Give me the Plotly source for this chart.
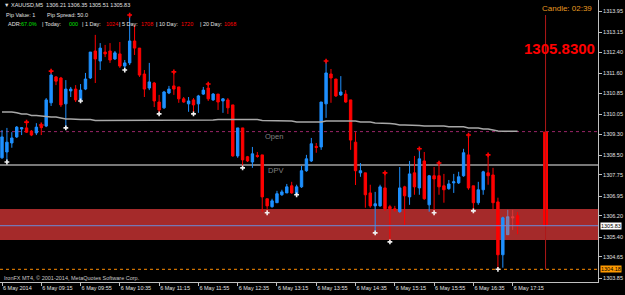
import plotly.graph_objects as go

W, H = 625, 295
ML, MR, MT, MB = 0, 27, 0, 13
PW, PH = W - ML - MR, H - MT - MB

# ---------------- data (M5 bars, XAUUSD) ----------------
opens = [
    1308.40, 1308.62, 1308.96, 1309.19, 1309.49, 1309.53, 1309.41, 1309.34, 1309.60, 1309.60,
    1310.48, 1311.46, 1311.42, 1310.44, 1310.93, 1311.00, 1310.59, 1311.00, 1311.42, 1312.44,
    1312.06, 1312.40, 1312.44, 1312.14, 1312.33, 1311.87, 1311.99, 1312.82, 1312.55, 1311.57,
    1311.04, 1311.23, 1310.51, 1310.29, 1310.85, 1311.12, 1311.08, 1310.63, 1310.44, 1310.59,
    1310.44, 1310.81, 1311.04, 1310.59, 1310.81, 1310.55, 1310.59, 1310.40, 1308.47, 1309.53,
    1308.44, 1308.24, 1308.49, 1308.51, 1306.85, 1306.55, 1306.70, 1307.00, 1307.07, 1307.34,
    1307.04, 1307.30, 1307.91, 1308.28, 1308.83, 1308.81, 1310.44, 1311.57, 1311.38, 1310.78,
    1310.81, 1310.59, 1308.99, 1307.83, 1307.83, 1307.07, 1306.58, 1306.58, 1307.26, 1306.55,
    1306.47, 1306.36, 1307.30, 1306.92, 1307.83, 1307.26, 1308.28, 1306.62, 1307.72, 1307.72,
    1307.34, 1307.23, 1307.45, 1307.45, 1307.72, 1308.51, 1307.34, 1306.70, 1307.19, 1307.83,
    1307.75, 1306.73, 1304.73, 1305.49, 1306.17, 1306.21]
highs = [
    1309.45, 1309.53, 1309.37, 1309.60, 1309.56, 1309.75, 1309.45, 1309.71, 1309.64, 1310.66,
    1311.68, 1311.49, 1311.46, 1311.34, 1311.08, 1311.15, 1311.19, 1311.61, 1312.40, 1313.05,
    1312.74, 1312.67, 1312.74, 1312.44, 1312.78, 1312.10, 1313.80, 1313.42, 1312.55, 1311.72,
    1311.99, 1311.27, 1310.78, 1310.93, 1311.12, 1311.65, 1311.08, 1310.70, 1310.70, 1310.66,
    1310.78, 1311.08, 1311.19, 1310.85, 1310.81, 1310.66, 1310.66, 1310.40, 1309.53, 1309.53,
    1308.47, 1308.81, 1308.62, 1308.51, 1306.85, 1306.85, 1307.15, 1307.19, 1307.41, 1307.49,
    1307.38, 1308.09, 1308.51, 1309.15, 1308.96, 1310.51, 1312.06, 1311.76, 1311.38, 1311.49,
    1310.96, 1310.59, 1309.37, 1308.20, 1307.83, 1307.38, 1307.11, 1307.38, 1307.83, 1306.62,
    1306.58, 1308.05, 1307.34, 1308.28, 1308.47, 1308.74, 1308.62, 1307.75, 1308.05, 1308.20,
    1307.79, 1307.56, 1307.79, 1307.87, 1308.74, 1309.26, 1307.34, 1307.49, 1307.91, 1308.51,
    1308.02, 1306.89, 1306.17, 1306.43, 1306.43, 1306.35]
lows = [
    1308.36, 1308.24, 1308.78, 1309.15, 1309.26, 1309.34, 1309.22, 1309.26, 1309.26, 1309.56,
    1310.36, 1311.15, 1310.32, 1309.53, 1310.70, 1310.51, 1310.55, 1310.96, 1311.38, 1311.23,
    1311.72, 1312.21, 1311.99, 1312.10, 1311.80, 1311.72, 1311.91, 1312.29, 1311.46, 1310.70,
    1310.96, 1310.32, 1310.06, 1310.25, 1310.81, 1310.78, 1310.48, 1310.48, 1310.14, 1310.06,
    1310.10, 1310.78, 1310.55, 1310.55, 1310.21, 1310.10, 1310.06, 1308.44, 1308.40, 1308.02,
    1308.24, 1308.02, 1308.40, 1306.36, 1306.32, 1306.51, 1306.70, 1306.96, 1307.07, 1307.04,
    1307.00, 1307.26, 1307.87, 1308.24, 1308.59, 1308.70, 1309.91, 1310.48, 1310.70, 1310.74,
    1310.48, 1308.70, 1307.37, 1307.68, 1306.51, 1306.51, 1305.56, 1306.55, 1306.39, 1305.22,
    1306.36, 1306.32, 1305.86, 1306.62, 1307.00, 1307.00, 1306.81, 1306.36, 1306.32, 1307.00,
    1306.70, 1307.19, 1307.07, 1307.41, 1307.68, 1307.19, 1306.39, 1306.62, 1307.00, 1307.38,
    1306.43, 1304.18, 1304.24, 1305.49, 1305.67, 1305.51]
closes = [
    1309.19, 1308.99, 1309.15, 1309.56, 1309.54, 1309.37, 1309.26, 1309.56, 1309.54, 1310.59,
    1311.53, 1311.30, 1310.40, 1311.00, 1311.00, 1310.59, 1310.96, 1311.38, 1312.40, 1312.14,
    1312.55, 1312.33, 1312.10, 1312.37, 1311.87, 1311.99, 1312.82, 1312.55, 1311.53, 1311.00,
    1311.27, 1310.55, 1310.21, 1310.89, 1311.00, 1311.00, 1310.63, 1310.51, 1310.55, 1310.40,
    1310.74, 1310.96, 1310.63, 1310.81, 1310.51, 1310.63, 1310.29, 1308.47, 1309.53, 1308.32,
    1308.28, 1308.55, 1308.45, 1306.92, 1306.58, 1306.77, 1307.04, 1307.11, 1307.30, 1307.07,
    1307.30, 1307.91, 1308.36, 1308.93, 1308.79, 1310.51, 1311.61, 1311.42, 1310.74, 1310.89,
    1310.51, 1309.07, 1307.91, 1307.91, 1307.00, 1306.58, 1306.66, 1307.30, 1306.47, 1306.47,
    1306.43, 1307.26, 1306.96, 1307.79, 1307.30, 1308.36, 1306.85, 1307.72, 1307.60, 1307.30,
    1307.19, 1307.41, 1307.49, 1307.68, 1308.59, 1307.26, 1306.70, 1307.19, 1307.87, 1307.72,
    1306.70, 1304.73, 1306.13, 1306.17, 1306.13, 1305.83]
ma_line = [
    1310.13, 1310.13, 1310.13, 1310.10, 1310.06, 1310.06, 1310.00, 1310.00, 1309.98, 1309.94,
    1309.94, 1309.94, 1309.91, 1309.87, 1309.87, 1309.85, 1309.85, 1309.85, 1309.85, 1309.81,
    1309.81, 1309.81, 1309.81, 1309.81, 1309.81, 1309.81, 1309.81, 1309.81, 1309.81, 1309.81,
    1309.81, 1309.81, 1309.81, 1309.81, 1309.81, 1309.81, 1309.81, 1309.81, 1309.81, 1309.81,
    1309.81, 1309.83, 1309.83, 1309.83, 1309.85, 1309.85, 1309.87, 1309.87, 1309.87, 1309.85,
    1309.85, 1309.85, 1309.85, 1309.81, 1309.81, 1309.81, 1309.81, 1309.81, 1309.79, 1309.79,
    1309.75, 1309.75, 1309.75, 1309.75, 1309.75, 1309.75, 1309.79, 1309.79, 1309.79, 1309.79,
    1309.79, 1309.79, 1309.79, 1309.75, 1309.75, 1309.75, 1309.72, 1309.72, 1309.70, 1309.70,
    1309.68, 1309.64, 1309.64, 1309.64, 1309.62, 1309.62, 1309.60, 1309.60, 1309.60, 1309.60,
    1309.60, 1309.57, 1309.57, 1309.57, 1309.57, 1309.53, 1309.53, 1309.53, 1309.49, 1309.49,
    1309.45, 1309.41, 1309.40, 1309.40, 1309.40, 1309.40]
faded_bars = [103, 104]
fractal_low_idx = [1, 13, 16, 25, 32, 39, 49, 54, 60, 76, 79, 88, 96, 101]
fractal_high_idx = [5, 8, 10, 26, 35, 42, 66, 78, 85, 89, 95, 99]

# higher-timeframe candle drawn at the right
htf_pos = [110.7]
htf_open, htf_high, htf_low, htf_close = [1309.39], [1313.80], [1304.18], [1305.83]

# levels
day_open = 1309.39
dpv = 1308.13
zone_low, zone_high = 1305.29, 1306.46
bid = 1305.83
day_low = 1304.18

x_tick_idx = [0, 8, 16, 24, 32, 40, 48, 56, 64, 72, 80, 88, 96, 104]
x_tick_text = ["6 May 2014", "6 May 09:15", "6 May 09:55", "6 May 10:35", "6 May 11:15",
               "6 May 11:55", "6 May 12:35", "6 May 13:15", "6 May 13:55", "6 May 14:35",
               "6 May 15:15", "6 May 15:55", "6 May 16:35", "6 May 17:15"]
y_tick_vals = [1313.95, 1313.15, 1312.40, 1311.60, 1310.85, 1310.05, 1309.30,
               1308.50, 1307.75, 1306.95, 1306.20, 1305.40, 1304.65, 1303.85]
y_tick_text = ["%.2f" % v for v in y_tick_vals]

# ---------------- figure ----------------
BLUE = "#1E90FF"
RED = "#FF0000"
FONT = "Liberation Sans"

idx = list(range(len(opens)))
main = [i for i in idx if i not in faded_bars]

fig = go.Figure()

fig.add_trace(go.Scatter(x=idx, y=ma_line, mode="lines",
                         line=dict(color="#A8A8A8", width=1.5), hoverinfo="skip"))

fig.add_trace(go.Candlestick(
    x=main, open=[opens[i] for i in main], high=[highs[i] for i in main],
    low=[lows[i] for i in main], close=[closes[i] for i in main],
    increasing=dict(line=dict(color=BLUE, width=1), fillcolor=BLUE),
    decreasing=dict(line=dict(color=RED, width=1), fillcolor=RED),
    whiskerwidth=0, hoverinfo="skip"))

fig.add_trace(go.Candlestick(
    x=faded_bars, open=[opens[i] for i in faded_bars], high=[highs[i] for i in faded_bars],
    low=[lows[i] for i in faded_bars], close=[closes[i] for i in faded_bars],
    increasing=dict(line=dict(color="rgba(110,140,200,0.8)", width=1), fillcolor="rgba(110,140,200,0.8)"),
    decreasing=dict(line=dict(color="rgba(230,60,60,0.8)", width=1), fillcolor="rgba(230,60,60,0.8)"),
    whiskerwidth=0, hoverinfo="skip"))

# fractal marks
fig.add_trace(go.Scatter(x=fractal_low_idx, y=[lows[i] for i in fractal_low_idx], mode="markers",
                         marker=dict(symbol="cross", size=4, color="#F0F0F0"), hoverinfo="skip"))
fig.add_trace(go.Scatter(x=fractal_high_idx, y=[highs[i] for i in fractal_high_idx], mode="markers",
                         marker=dict(symbol="cross", size=4, color=RED), hoverinfo="skip"))

# higher timeframe candle
fig.add_trace(go.Scatter(x=htf_pos + htf_pos, y=htf_low + htf_high, mode="lines",
                         line=dict(color="#B01818", width=1), hoverinfo="skip"))
fig.add_trace(go.Bar(x=htf_pos, y=[htf_open[0] - htf_close[0]], base=htf_close, width=1.0,
                     marker=dict(color=RED, line=dict(width=0)), hoverinfo="skip"))


def px(x):
    return (x - ML) / PW


def py(y):
    return 1 - (y - MT) / PH


shapes = [
    dict(type="rect", xref="paper", x0=0, x1=1, yref="y", y0=zone_low, y1=zone_high,
         fillcolor="#A52A2A", line=dict(width=0), layer="below"),
    dict(type="line", xref="paper", x0=0, x1=1, yref="y", y0=day_open, y1=day_open,
         line=dict(color="#9A2468", width=1, dash="dot"), layer="below"),
    dict(type="line", xref="paper", x0=0, x1=1, yref="y", y0=dpv, y1=dpv,
         line=dict(color="#A0A0A0", width=1.5), layer="below"),
    dict(type="line", xref="paper", x0=0, x1=1, yref="y", y0=day_low, y1=day_low,
         line=dict(color="#FF8C00", width=1, dash="dot"), layer="below"),
    dict(type="line", xref="paper", x0=0, x1=1, yref="y", y0=bid, y1=bid,
         line=dict(color="#6A8CD8", width=1), layer="above"),
]

ann = []


def txt(s, x, y, color="#E0E0E0", size=5.5, anchor="left", **kw):
    ann.append(dict(text=s, xref="paper", yref="paper", x=px(x), y=py(y), xanchor=anchor,
                    yanchor="middle", showarrow=False,
                    font=dict(family=FONT, size=size, color=color), **kw))


header = "▼ XAUUSD,M5  %.2f %.2f %.2f %.2f" % (opens[-1], highs[-1], lows[-1], closes[-1])
txt(header, 2, 5)
txt("Pip Value: 1", 4, 15)
txt("Pip Spread: 50.0", 45, 15)
GREEN = "#00E000"
for s, x, c in [("ADR:", 6, "#E0E0E0"), ("67.0%", 19, GREEN), ("| Today:", 40, "#E0E0E0"),
                ("000", 67, GREEN), ("| 1 Day:", 80, "#E0E0E0"), ("1024", 104, RED),
                ("| 5 Day:", 117, "#E0E0E0"), ("1708", 139, RED), ("| 10 Day:", 154, "#E0E0E0"),
                ("1720", 179, RED), ("| 20 Day:", 198, "#E0E0E0"), ("1068", 222, RED)]:
    txt(s, x, 24, color=c)

txt("Candle: 02:39", 594, 8, color="#E89A20", size=8, anchor="right")
txt("<b>%.4f</b>" % bid, 597, 49, color=RED, size=15, anchor="right")
txt("Open", 263, 136, color="#808080", size=7.5)
txt("DPV", 266, 170, color="#808080", size=7.5)
txt("IronFX MT4, © 2001-2014, MetaQuotes Software Corp.", 2, 278, color="#C8C8C8", size=5.5)

for val, bg in [(bid, "#FFFFFF"), (day_low, "#FF9A00")]:
    ann.append(dict(text="%.2f" % val, xref="paper", yref="y", x=1, y=val, xanchor="left",
                    yanchor="middle", xshift=2, showarrow=False, bgcolor=bg, borderpad=0,
                    font=dict(family=FONT, size=5.5, color="#000000")))

fig.update_layout(
    width=W, height=H, margin=dict(l=ML, r=MR, t=MT, b=MB, pad=0, autoexpand=False),
    paper_bgcolor="#000000", plot_bgcolor="#000000", showlegend=False,
    shapes=shapes, annotations=ann, hovermode=False,
    xaxis=dict(range=[-0.407, 121.38], showgrid=False, zeroline=False, automargin=False,
               rangeslider=dict(visible=False), tickmode="array", tickangle=0,
               tickvals=x_tick_idx, ticktext=x_tick_text, ticks="outside", ticklen=3,
               tickcolor="#C0C0C0", ticklabelposition="outside right",
               tickfont=dict(family=FONT, size=5.5, color="#E0E0E0"),
               showline=True, linecolor="#C0C0C0", linewidth=1, mirror=True, fixedrange=True),
    yaxis=dict(range=[1303.70, 1314.37], side="right", showgrid=False, zeroline=False,
               automargin=False, tickmode="array", tickvals=y_tick_vals, ticktext=y_tick_text,
               ticks="outside", ticklen=3, tickcolor="#C0C0C0",
               tickfont=dict(family=FONT, size=5.5, color="#E0E0E0"),
               showline=True, linecolor="#C0C0C0", linewidth=1, mirror=True, fixedrange=True),
)

fig.write_html("out.html")
